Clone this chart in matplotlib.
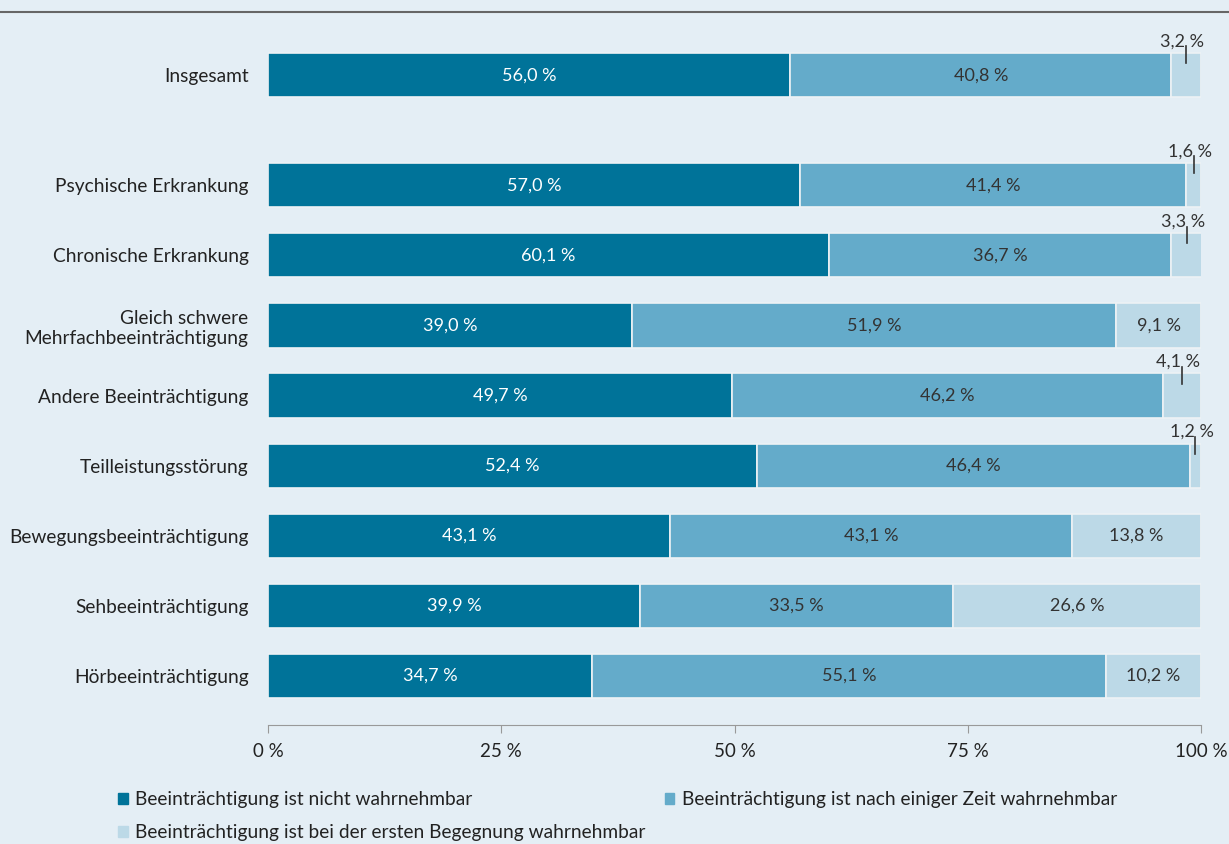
import numpy as np
import matplotlib.pyplot as plt

plt.rcParams['font.family'] = ['Lato', 'DejaVu Sans']

# Categories (top to bottom) and shares in percent
categories = ['Insgesamt', 'Psychische Erkrankung', 'Chronische Erkrankung',
              'Gleich schwere\nMehrfachbeeinträchtigung', 'Andere Beeinträchtigung',
              'Teilleistungsstörung', 'Bewegungsbeeinträchtigung',
              'Sehbeeinträchtigung', 'Hörbeeinträchtigung']
nicht = [56.0, 57.0, 60.1, 39.0, 49.7, 52.4, 43.1, 39.9, 34.7]
nach_zeit = [40.8, 41.4, 36.7, 51.9, 46.2, 46.4, 43.1, 33.5, 55.1]
erste = [3.2, 1.6, 3.3, 9.1, 4.1, 1.2, 13.8, 26.6, 10.2]
series_names = ['Beeinträchtigung ist nicht wahrnehmbar',
                'Beeinträchtigung ist nach einiger Zeit wahrnehmbar',
                'Beeinträchtigung ist bei der ersten Begegnung wahrnehmbar']
ticks = [0, 25, 50, 75, 100]

# y positions (Insgesamt set apart from the rest)
ypos = np.array([8.57, 7, 6, 5, 4, 3, 2, 1, 0])

bg = '#e4eef5'
colors = ['#007399', '#64abca', '#bcd9e7']
text_colors = ['white', '#333333', '#333333']

fig = plt.figure(figsize=(12.29, 8.44), dpi=100, facecolor=bg)
ax = fig.add_axes([268 / 1229, 1 - 725 / 844, 933 / 1229, (725 - 24) / 844])
ax.set_facecolor(bg)

def fmt(v):
    return f'{v:.1f}'.replace('.', ',') + ' %'

left = np.zeros(len(categories))
for i, vals in enumerate([nicht, nach_zeit, erste]):
    vals = np.array(vals)
    ax.barh(ypos, vals, left=left, height=0.63, color=colors[i],
            edgecolor='#edf2f5', linewidth=1.2, label=series_names[i])
    for y, l, v in zip(ypos, left, vals):
        cx = l + v / 2
        if v >= 5:
            ax.text(cx, y, fmt(v), ha='center', va='center', fontsize=13,
                    color=text_colors[i])
        else:
            ax.plot([cx, cx], [y + 0.17, y + 0.41], color='#333333', lw=1.2)
            ax.text(cx - 0.4, y + 0.37, fmt(v), ha='center', va='bottom',
                    fontsize=13, color='#333333')
    left = left + vals

ax.set_xlim(0, 100)
ax.set_ylim(-0.70, 9.3)
ax.set_yticks(ypos)
ax.set_yticklabels(categories, fontsize=13.8, color='#222222')
ax.set_xticks(ticks)
ax.set_xticklabels([f'{t} %' for t in ticks], fontsize=13.5, color='#222222')
ax.tick_params(axis='y', length=0, pad=14)
ax.tick_params(axis='x', length=6, color='#999999', pad=7)
for s in ['top', 'right', 'left']:
    ax.spines[s].set_visible(False)
ax.spines['bottom'].set_color('#999999')

# top rule
fig.add_artist(plt.Line2D([0, 1], [1 - 12 / 844, 1 - 12 / 844], color='#666666', lw=1.5))

h = [plt.Rectangle((0, 0), 1, 1, color=c) for c in colors]
leg = fig.legend([h[0], h[2], h[1]], [series_names[0], series_names[2], series_names[1]],
                 ncol=2, loc='upper left', bbox_to_anchor=(118 / 1229, 1 - 791 / 844),
                 frameon=False, fontsize=13.8, handlelength=0.5, handleheight=0.5,
                 handletextpad=0.4, columnspacing=1.0, labelspacing=0.85,
                 borderaxespad=0, borderpad=0)
for t in leg.get_texts():
    t.set_color('#222222')

fig.savefig('out.png', dpi=100, facecolor=bg)
